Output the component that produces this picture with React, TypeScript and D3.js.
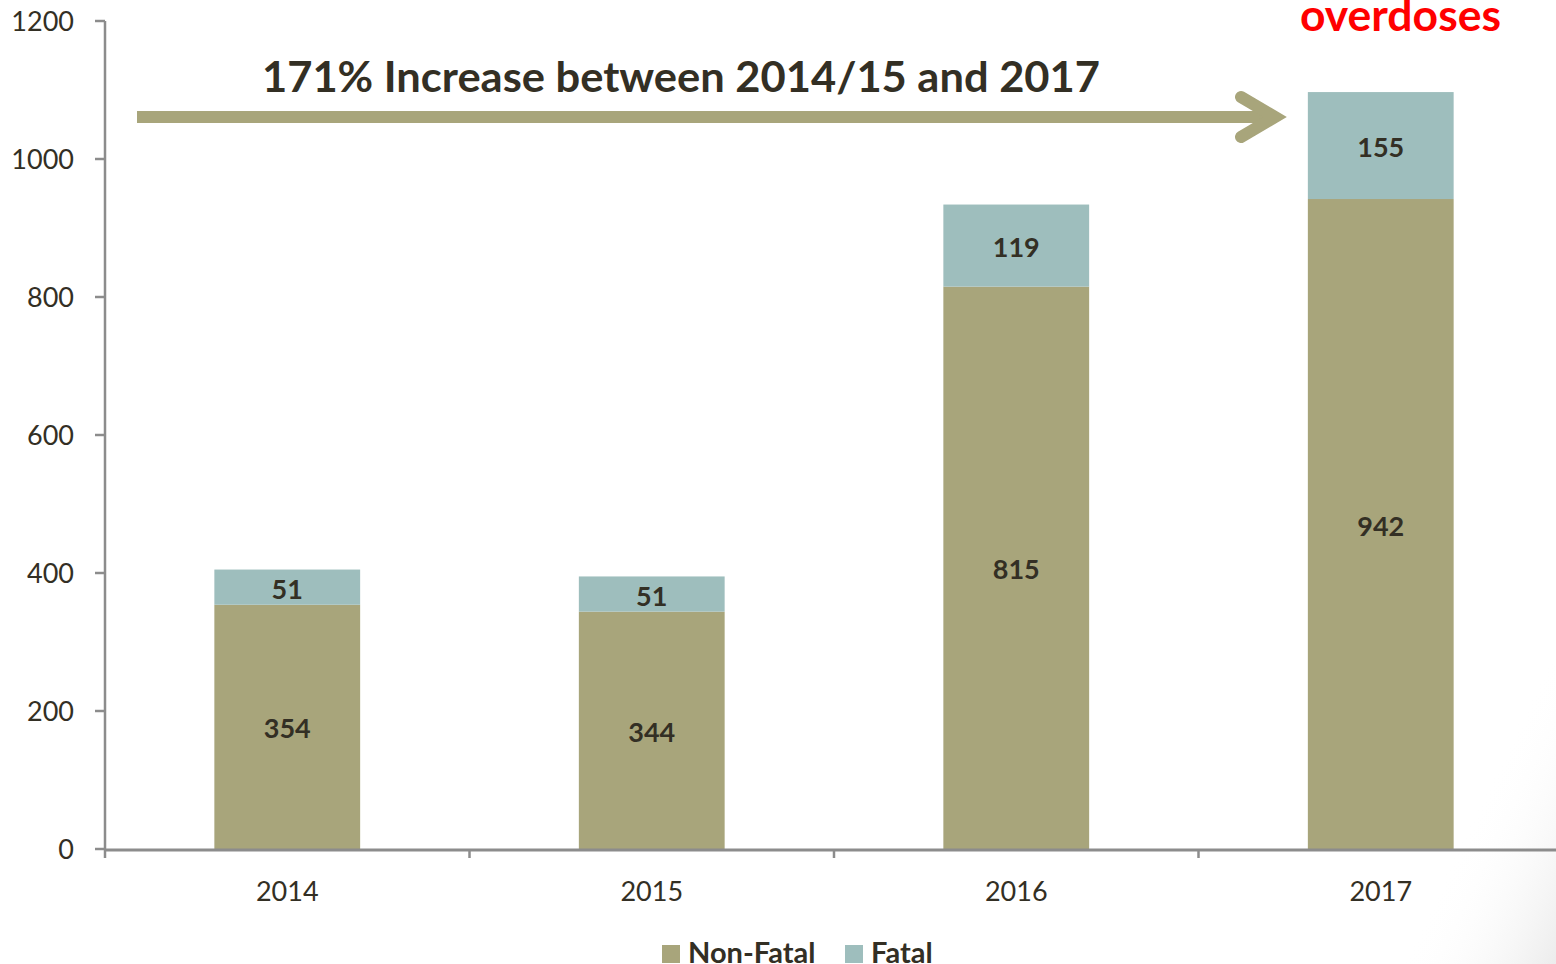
import React from "react";
import * as d3 from "d3";

const categories = ["2014", "2015", "2016", "2017"];
const nonFatal = [354, 344, 815, 942];
const fatal = [51, 51, 119, 155];
const yTicks = [0, 200, 400, 600, 800, 1000, 1200];
const seriesNames = ["Non-Fatal", "Fatal"];
const titleText = "171% Increase between 2014/15 and 2017";
const cornerText = "overdoses";

const W = 1556;
const H = 964;
const COL_NF = "#a8a57b";
const COL_F = "#9ebebd";
const TEXT = "#332f24";
const AXIS = "#8c8c8c";
const FONT = "Lato, 'Open Sans', sans-serif";

export default function App() {
  const x = d3.scaleBand<string>().domain(categories).range([105, 1563]).paddingInner(0.6).paddingOuter(0.3);
  const y = d3.scaleLinear().domain([0, 1200]).range([849, 21]);
  const step = x.step();
  const boundaries = d3.range(categories.length + 1).map((i) => 105 + i * step);
  const bw = x.bandwidth();

  return (
    <svg width={W} height={H} style={{ position: "absolute", left: 0, top: 0, display: "block", background: "#fff" }}>
      <defs>
        <linearGradient id="shade" x1="0" y1="0" x2="1" y2="1">
          <stop offset="0.5" stopColor="#ffffff" stopOpacity={0} />
          <stop offset="1" stopColor="#ececec" stopOpacity={1} />
        </linearGradient>
      </defs>
      <rect x={1400} y={640} width={156} height={324} fill="url(#shade)" />

      {/* bars */}
      {categories.map((c, i) => {
        const x0 = x(c)!;
        const nf = nonFatal[i];
        const f = fatal[i];
        const cx = x0 + bw / 2;
        return (
          <g key={c}>
            <rect x={x0} y={y(nf)} width={bw} height={y(0) - y(nf)} fill={COL_NF} />
            <rect x={x0} y={y(nf + f)} width={bw} height={y(nf) - y(nf + f)} fill={COL_F} />
            <text x={cx} y={(y(0) + y(nf)) / 2 + 11.5} textAnchor="middle" fontFamily={FONT} fontWeight="bold" fontSize={27} fill={TEXT}>
              {nf}
            </text>
            <text x={cx} y={(y(nf) + y(nf + f)) / 2 + 11.5} textAnchor="middle" fontFamily={FONT} fontWeight="bold" fontSize={27} fill={TEXT}>
              {f}
            </text>
          </g>
        );
      })}

      {/* y axis */}
      <line x1={105} x2={105} y1={y(1200)} y2={y(0)} stroke={AXIS} strokeWidth={2.5} />
      {yTicks.map((t) => (
        <g key={t}>
          <line x1={95} x2={105} y1={y(t)} y2={y(t)} stroke={AXIS} strokeWidth={2.5} />
          <text x={74} y={y(t) + 10} textAnchor="end" fontFamily={FONT} fontSize={27} fill={TEXT}>
            {t}
          </text>
        </g>
      ))}

      {/* x axis */}
      <line x1={104} x2={W} y1={850} y2={850} stroke={AXIS} strokeWidth={3} />
      {boundaries.map((b, i) => (
        <line key={i} x1={b} x2={b} y1={850} y2={858} stroke={AXIS} strokeWidth={2.5} />
      ))}
      {categories.map((c) => (
        <text key={c} x={x(c)! + bw / 2} y={901} textAnchor="middle" fontFamily={FONT} fontSize={27} fill={TEXT}>
          {c}
        </text>
      ))}

      {/* arrow */}
      <line x1={137} x2={1272} y1={117} y2={117} stroke={COL_NF} strokeWidth={12} />
      <path d="M1241,97 L1275,117 L1241,137" fill="none" stroke={COL_NF} strokeWidth={12} strokeLinecap="round" strokeLinejoin="miter" />

      {/* title */}
      <text x={262} y={92} fontFamily={FONT} fontWeight="bold" fontSize={42} fill={TEXT} textLength={838} lengthAdjust="spacingAndGlyphs">
        {titleText}
      </text>
      <text x={1300} y={31} fontFamily={FONT} fontWeight="bold" fontSize={44} fill="#ff0000" textLength={201} lengthAdjust="spacingAndGlyphs">
        {cornerText}
      </text>

      {/* legend */}
      <rect x={662} y={945} width={18} height={18} fill={COL_NF} />
      <text x={688} y={963} fontFamily={FONT} fontWeight="bold" fontSize={29} fill={TEXT}>
        {seriesNames[0]}
      </text>
      <rect x={845} y={945} width={18} height={18} fill={COL_F} />
      <text x={871} y={963} fontFamily={FONT} fontWeight="bold" fontSize={29} fill={TEXT}>
        {seriesNames[1]}
      </text>
    </svg>
  );
}
